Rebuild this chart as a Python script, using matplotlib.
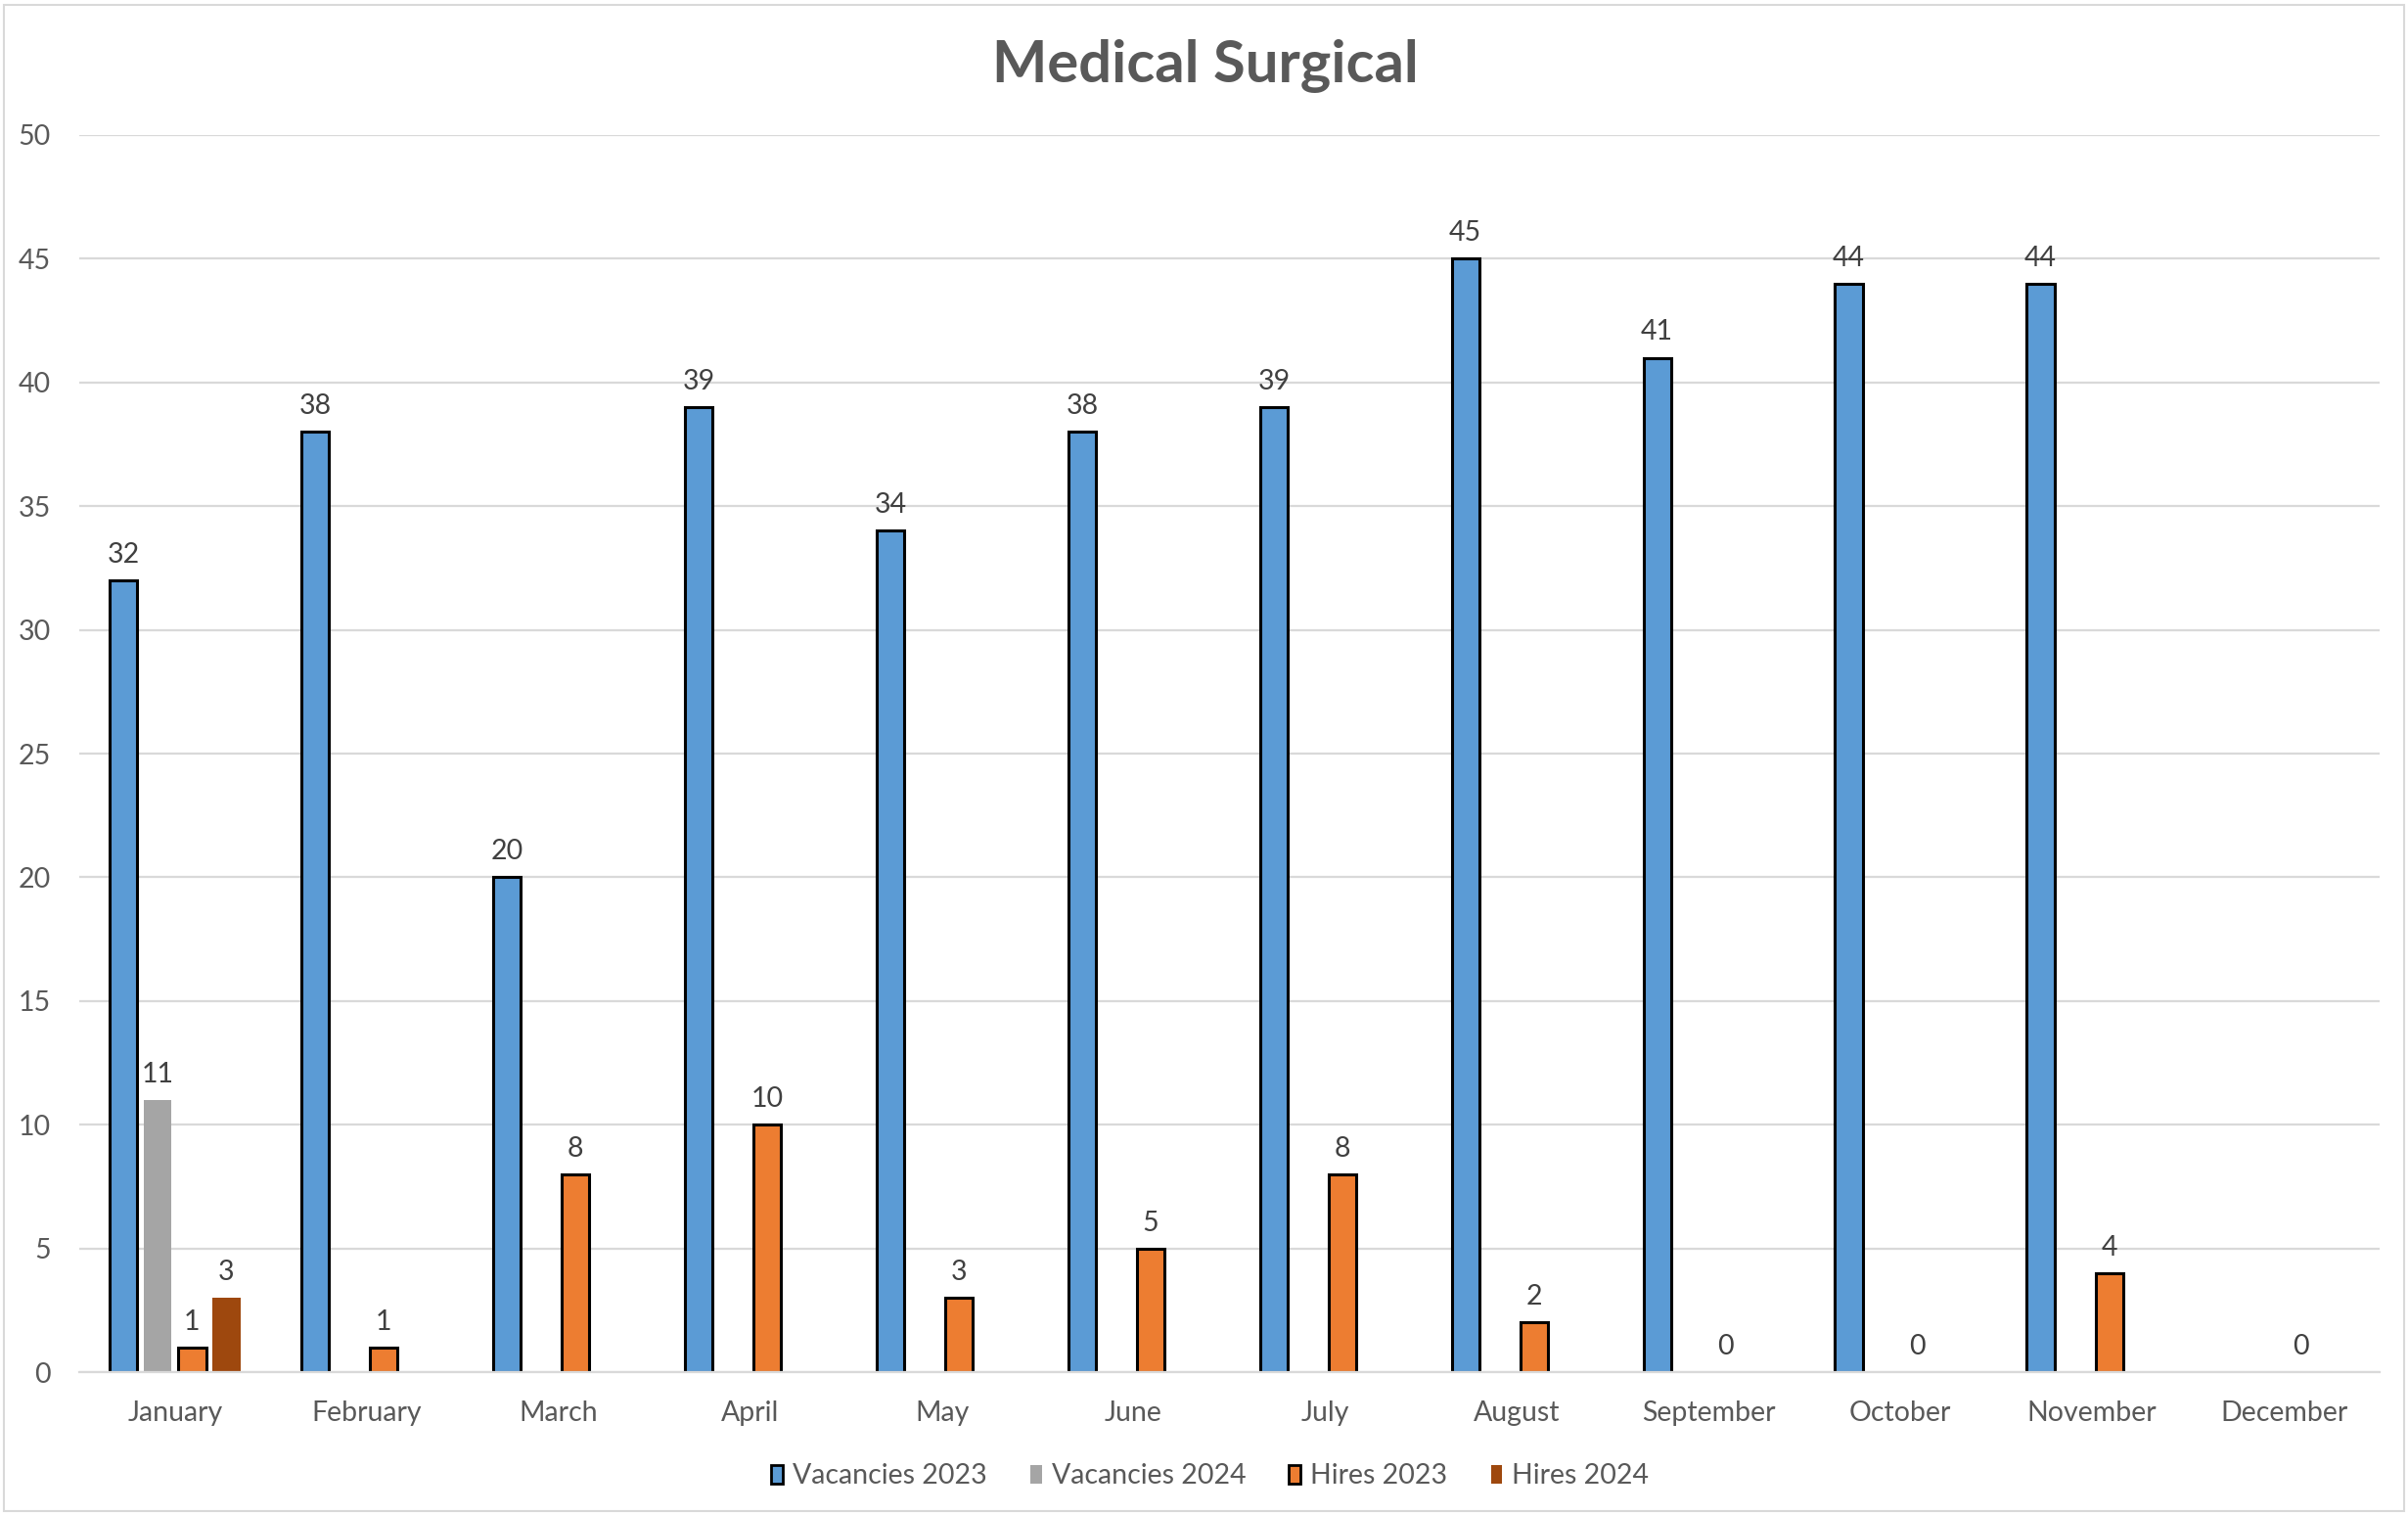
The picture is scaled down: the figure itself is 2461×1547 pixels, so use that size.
import numpy as np
import matplotlib
matplotlib.use("Agg")
import matplotlib.pyplot as plt
from matplotlib.patches import Rectangle, Patch

plt.rcParams['font.family'] = ['Lato', 'DejaVu Sans']

months = ["January", "February", "March", "April", "May", "June", "July",
          "August", "September", "October", "November", "December"]
nan = np.nan
vacancies_2023 = [32, 38, 20, 39, 34, 38, 39, 45, 41, 44, 44, nan]
vacancies_2024 = [11, nan, nan, nan, nan, nan, nan, nan, nan, nan, nan, nan]
hires_2023 = [1, 1, 8, 10, 3, 5, 8, 2, 0, 0, 4, 0]
hires_2024 = [3, nan, nan, nan, nan, nan, nan, nan, nan, nan, nan, nan]

series = [
    ("Vacancies 2023", vacancies_2023, "#5B9BD5", True),
    ("Vacancies 2024", vacancies_2024, "#A5A5A5", False),
    ("Hires 2023", hires_2023, "#ED7D31", True),
    ("Hires 2024", hires_2024, "#9E480E", False),
]

TEXT = "#595959"
LABEL = "#404040"
GRID = "#D9D9D9"
FS = 20.5

fig = plt.figure(figsize=(24.61, 15.47), dpi=100)
ax = fig.add_axes([0.0329, 0.0937, 0.9553, 0.8171])

x = np.arange(len(months))
step = 0.179
width = 0.144
handles = []
for i, (name, vals, color, outlined) in enumerate(series):
    vals = np.asarray(vals, dtype=float)
    pos = x + (i - 1.5) * step
    edges = ["black" if (outlined and v > 0) else "none" for v in vals]
    ax.bar(pos, np.nan_to_num(vals), width=width, color=color,
           edgecolor=edges, linewidth=2.2, zorder=3)
    for p, v in zip(pos, vals):
        if np.isnan(v):
            continue
        ax.annotate(f"{int(v)}", (p, v), xytext=(0, 13), textcoords="offset points",
                    ha="center", va="baseline", fontsize=FS, color=LABEL, zorder=4)
    handles.append(Patch(facecolor=color,
                         edgecolor="black" if outlined else "none",
                         linewidth=2.0 if outlined else 0, label=name))

ax.set_xlim(-0.5, len(months) - 0.5)
ax.set_ylim(0, 50)
ax.set_yticks(np.arange(0, 51, 5))
ax.set_xticks(x)
ax.set_xticklabels(months)
ax.yaxis.grid(True, color=GRID, linewidth=1.6, zorder=0)
ax.set_axisbelow(True)
for side in ["top", "right", "left"]:
    ax.spines[side].set_visible(False)
ax.spines["bottom"].set_color(GRID)
ax.spines["bottom"].set_linewidth(1.6)
ax.spines["bottom"].set_zorder(5)
ax.tick_params(axis="both", length=0, labelsize=FS, colors=TEXT)
ax.tick_params(axis="y", pad=21)
ax.tick_params(axis="x", pad=21)

fig.text(0.5005, 0.9565, "Medical Surgical", ha="center", va="center",
         fontsize=43, fontweight="bold", color=TEXT)

fig.legend(handles=handles, loc="center", bbox_to_anchor=(0.5025, 0.025), ncol=4,
           frameon=False, fontsize=FS, labelcolor=TEXT, handlelength=0.42,
           handleheight=0.65, handletextpad=0.35, columnspacing=1.55)

fig.patches.append(Rectangle((0.0015, 0.002), 0.997, 0.995, transform=fig.transFigure,
                             fill=False, edgecolor=GRID, linewidth=1.5))

fig.savefig("out.png", dpi=100, facecolor="white")
